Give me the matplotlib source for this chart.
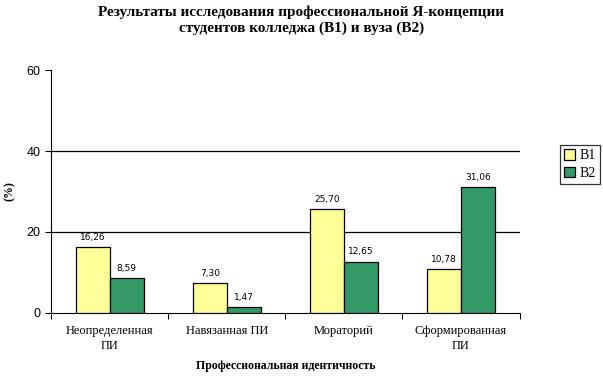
import numpy as np
import matplotlib.pyplot as plt

categories = ['Неопределенная\nПИ', 'Навязанная ПИ', 'Мораторий', 'Сформированная\nПИ']
b1 = [16.26, 7.30, 25.70, 10.78]
b2 = [8.59, 1.47, 12.65, 31.06]
yticks = [0, 20, 40, 60]

fig = plt.figure(figsize=(6.03, 3.77), dpi=100)
ax = fig.add_axes([0.0846, 0.170, 0.777, 0.644])

x = np.arange(len(categories))
w = 0.29
bars1 = ax.bar(x - w / 2, b1, w, color='#FFFF99', edgecolor='black', linewidth=0.9, label='B1', zorder=3)
bars2 = ax.bar(x + w / 2, b2, w, color='#339966', edgecolor='black', linewidth=0.9, label='B2', zorder=3)

for bars in (bars1, bars2):
    for b in bars:
        h = b.get_height()
        ax.text(b.get_x() + b.get_width() / 2, h + 1.3, f'{h:.2f}'.replace('.', ','),
                ha='center', va='bottom', fontsize=6.5, family='DejaVu Sans')

ax.set_xlim(-0.5, len(categories) - 0.5)
ax.set_ylim(0, 60)
ax.set_yticks(yticks)
ax.set_yticklabels([str(t) for t in yticks], fontsize=9, family='Liberation Sans')
for t in [20, 40]:
    ax.axhline(t, color='black', linewidth=0.9, zorder=1)

ax.set_xticks(np.arange(len(categories) + 1) - 0.5)
ax.set_xticklabels([])
ax.set_xticks(x, minor=True)
ax.set_xticklabels(categories, minor=True, fontsize=9, family='Liberation Serif', linespacing=1.3)
ax.tick_params(axis='x', which='minor', length=0, pad=9)
ax.tick_params(axis='x', which='major', length=4, direction='out')
ax.tick_params(axis='y', length=4, direction='out')

ax.spines['top'].set_visible(False)
ax.spines['right'].set_visible(False)

ax.set_xlabel('Профессиональная идентичность', fontsize=8.5, fontweight='bold', family='Liberation Serif', labelpad=6)
ax.set_ylabel('(%)', fontsize=8.5, fontweight='bold', family='Liberation Serif')
ax.yaxis.set_label_coords(-0.075, 0.5)

fig.suptitle('Результаты исследования профессиональной Я-концепции\nстудентов колледжа (В1) и вуза (В2)',
             fontsize=11, fontweight='bold', family='Liberation Serif', y=0.985)

leg = ax.legend(loc='upper left', bbox_to_anchor=(0.929, 0.615), bbox_transform=fig.transFigure,
                prop={'family': 'Liberation Serif', 'size': 10}, frameon=True, fancybox=False,
                edgecolor='black', handlelength=0.8, handleheight=0.8, handletextpad=0.3,
                borderpad=0.3, labelspacing=0.3, borderaxespad=0)
leg.get_frame().set_linewidth(0.9)

fig.savefig('out.png', dpi=100)
